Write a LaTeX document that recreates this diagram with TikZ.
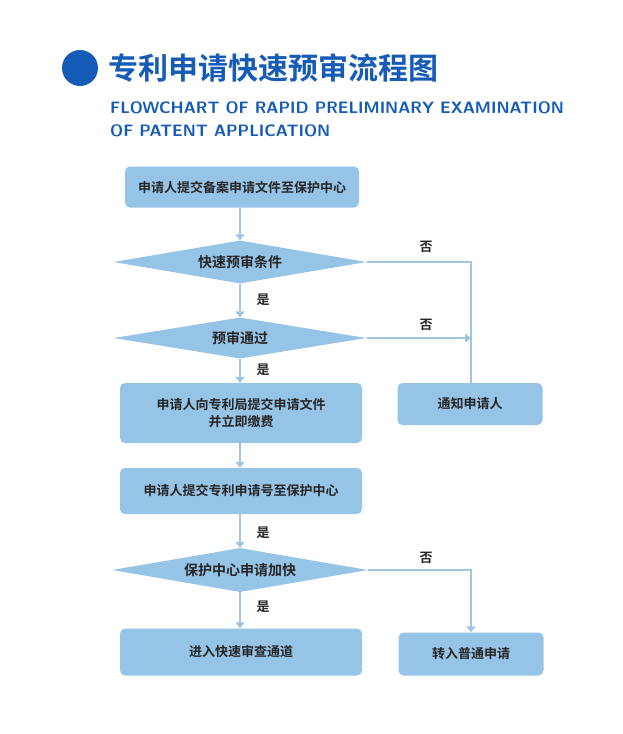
\documentclass[tikz,border=0pt]{standalone}
\usepackage{fontspec}
\setmainfont{Noto Sans CJK SC}
\newfontfamily\cjkb{Noto Sans CJK SC Bold}
\usetikzlibrary{shapes.geometric,arrows.meta}
\definecolor{boxc}{RGB}{150,196,230}
\definecolor{linec}{RGB}{160,198,228}
\definecolor{titc}{RGB}{22,92,182}
\tikzset{
 x=1pt,y=-1pt,
 boxn/.style={draw=none,fill=boxc,rounded corners=5pt,font=\cjkb\fontsize{13}{17}\selectfont,text=black!85,align=center},
 dia/.style={draw=none,fill=boxc,diamond,aspect=5.9,inner sep=0pt,minimum width=253pt,minimum height=43pt,font=\cjkb\fontsize{14}{17}\selectfont,text=black!85},
 conn/.style={draw=linec,line width=1.8pt,-{Triangle[width=9pt,length=6pt]}},
 lin/.style={draw=linec,line width=1.8pt},
 lab/.style={font=\cjkb\fontsize{13}{15}\selectfont,text=black!85}
}
\begin{document}
\begin{tikzpicture}
\useasboundingbox (0,0) rectangle (623,734);
\fill[white] (0,0) rectangle (623,734);
\fill[titc] (80,68) circle (18);
\node[anchor=west,text=titc,font=\cjkb\fontsize{30}{34}\selectfont,inner sep=0] (title) at (108,68) {专利申请快速预审流程图};
\node[anchor=west,text=titc,font=\sffamily\bfseries\fontsize{16.5}{23}\selectfont,align=left,inner sep=0] (sub) at (110,119) {FLOWCHART OF RAPID PRELIMINARY EXAMINATION\\OF PATENT APPLICATION};
\node[boxn,minimum width=234pt,minimum height=41pt] (b1) at (242,187) {申请人提交备案申请文件至保护中心};
\node[dia] (d1) at (240,262) {快速预审条件};
\node[dia,minimum height=41pt] (d2) at (240,338) {预审通过};
\node[boxn,minimum width=242pt,minimum height=60pt] (b3) at (241,413) {申请人向专利局提交申请文件\\并立即缴费};
\node[boxn,minimum width=145pt,minimum height=42pt] (n) at (470,404) {通知申请人};
\node[boxn,minimum width=242pt,minimum height=46pt] (b4) at (241,491) {申请人提交专利申请号至保护中心};
\node[dia,minimum width=256pt,minimum height=44pt] (d3) at (240,570) {保护中心申请加快};
\node[boxn,minimum width=242pt,minimum height=47pt] (b5) at (241,652) {进入快速审查通道};
\node[boxn,minimum width=145pt,minimum height=43pt] (b6) at (471,654) {转入普通申请};
\coordinate (r1) at (471,262);
\coordinate (r2) at (471,338);
\coordinate (r3) at (471,570);
\draw[conn] (b1.south -| d1.north) -- (d1.north);
\draw[conn] (d1.south) -- (d2.north);
\draw[conn] (d2.south) -- (d2.south |- b3.north);
\draw[conn] (d2.south |- b3.south) -- (d2.south |- b4.north);
\draw[conn] (d3.north |- b4.south) -- (d3.north);
\draw[conn] (d3.south) -- (d3.south |- b5.north);
\draw[lin] (d1.east) -- (r1) -- (r1 |- n.north);
\draw[conn] (d2.east) -- (r2);
\draw[conn] (d3.east) -- (r3) -- (r3 |- b6.north);
\node[lab] (y1) at (263,300) {是};
\node[lab] (y2) at (263,370) {是};
\node[lab] (y3) at (263,533) {是};
\node[lab] (y4) at (263,607) {是};
\node[lab] (n1) at (426,247) {否};
\node[lab] (n2) at (426,325) {否};
\node[lab] (n3) at (426,558) {否};
\end{tikzpicture}
\end{document}
